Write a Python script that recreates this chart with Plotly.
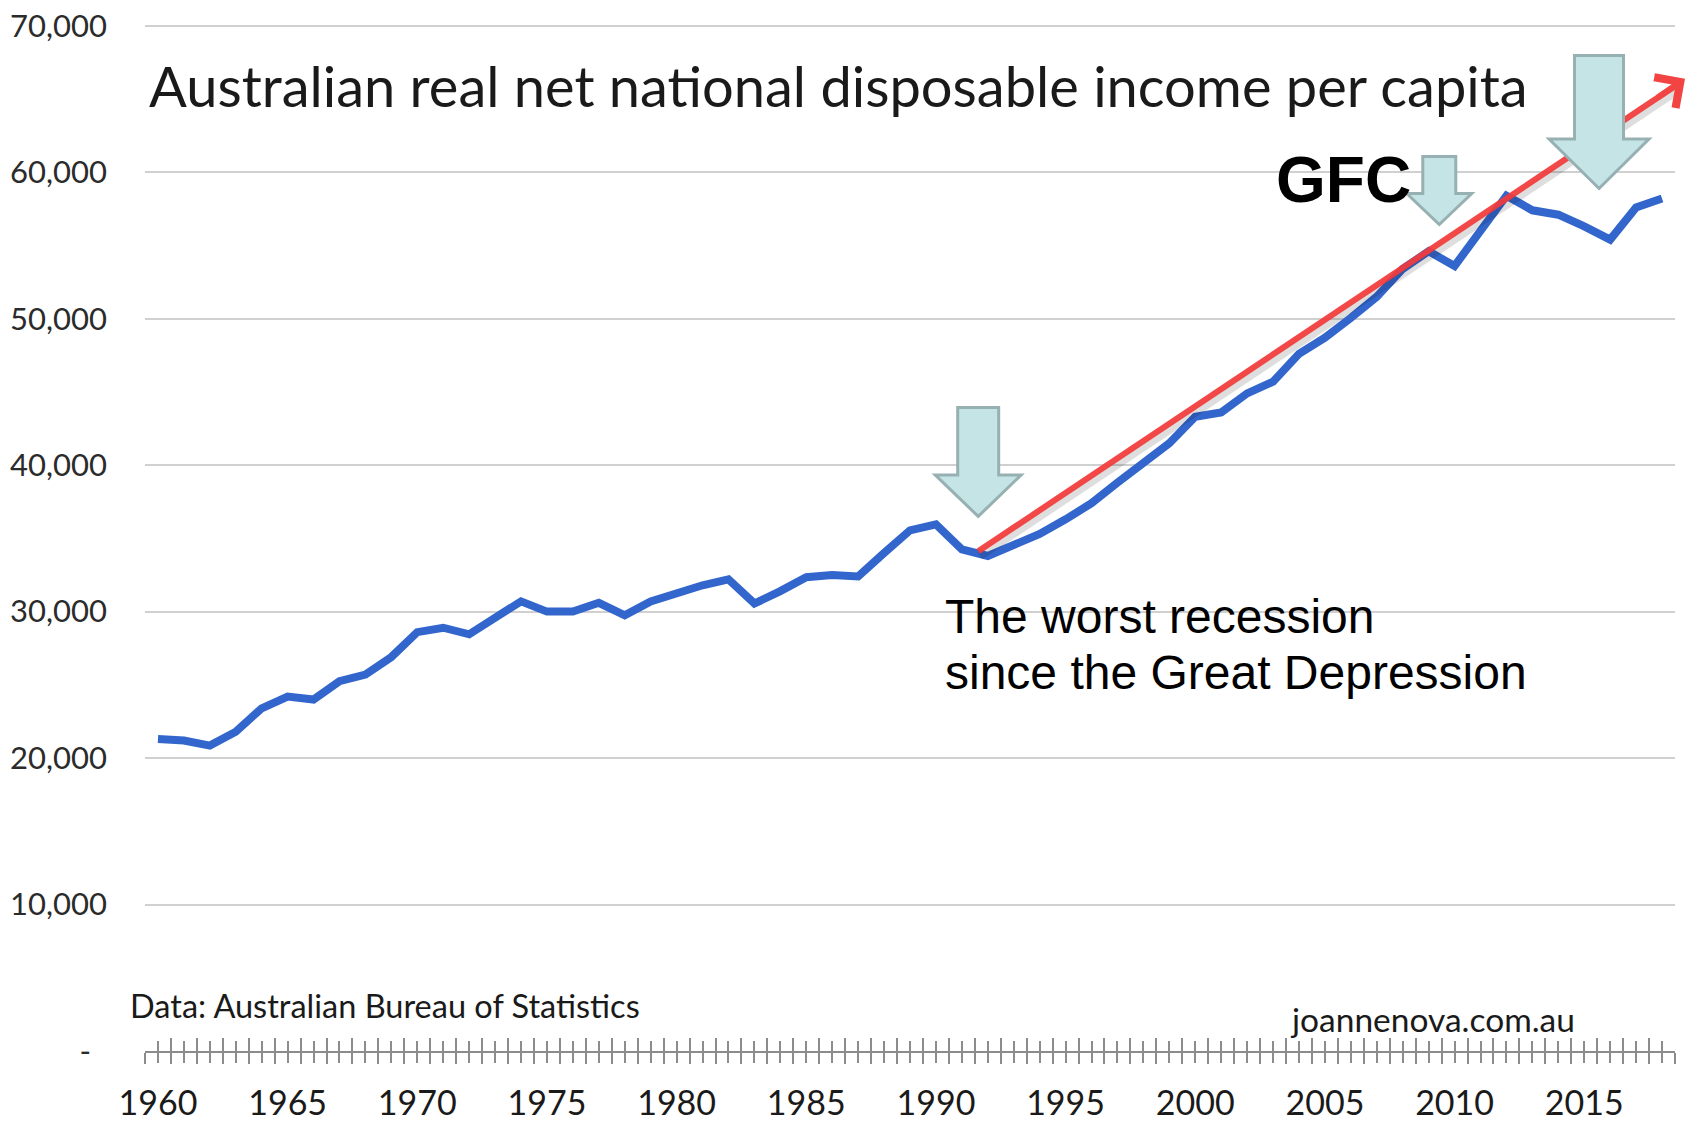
import plotly.graph_objects as go

# ---------------- data ----------------
years = list(range(1960, 2019))
income = [
    21300, 21200, 20850, 21800, 23400, 24200, 24000, 25250, 25700, 26900,
    28600, 28900, 28450, 29550, 30700, 30000, 30000, 30600, 29750, 30700,
    31300, 31800, 32200, 30550, 31400, 32350, 32500, 32400, 34000, 35550,
    35950, 34250, 33800, 34600, 35300, 36300, 37400, 38800, 40200, 41500,
    43300, 43600, 44900, 45700, 47600, 48700, 50050, 51500, 53400, 54600,
    53600, 56000, 58400, 57400, 57100, 56300, 55400, 57600, 58200,
]
label_years = [1960, 1965, 1970, 1975, 1980, 1985, 1990, 1995, 2000, 2005, 2010, 2015]
y_ticks = [0, 10000, 20000, 30000, 40000, 50000, 60000, 70000]
y_labels = ["-  ", "10,000", "20,000", "30,000", "40,000", "50,000", "60,000", "70,000"]

# trend arrow (start and tip) in data units
trend_x = [1991.63, 2018.93]
trend_y = [34120, 66390]

# block-arrow tips (year, value) and their sizes (px: head half-width, shaft half-width, head length, total length)
block_tip_x = [1991.63, 2009.41, 2015.57]
block_tip_y = [36500, 56430, 58890]
block_size = [(43, 20.5, 41.5, 109), (32.5, 16.5, 31, 68), (50, 24.5, 49.4, 133)]

BLUE = "#3366CC"
RED = "rgba(242,58,58,0.93)"
GRID = "#D0D0D0"
AXIS = "#8C8C8C"
CAL = "Lato, 'Open Sans', sans-serif"
ARIAL = "'Liberation Sans', Arial, sans-serif"

X_RANGE = [1959.5, 2018.5]
Y_RANGE = [0, 70120]

W, H = 1686, 1127
ML, MT = 145, 24
PLOT_W, PLOT_H = 1530, 1027
MR = W - ML - PLOT_W
MB = H - MT - PLOT_H


def py(page_y):
    """page pixel y -> paper fraction"""
    return (MT + PLOT_H - page_y) / PLOT_H


def px(page_x):
    return (page_x - ML) / PLOT_W


fig = go.Figure()
fig.add_trace(go.Scatter(x=years, y=income, mode="lines",
                         line=dict(color=BLUE, width=8), hoverinfo="skip",
                         showlegend=False))
# soft shadow under the trend line (offset a few pixels down/right)
sh_dx = 2 / PLOT_W * (X_RANGE[1] - X_RANGE[0])
sh_dy = 5 / PLOT_H * (Y_RANGE[1] - Y_RANGE[0])
fig.add_trace(go.Scatter(x=[v + sh_dx for v in trend_x], y=[v - sh_dy for v in trend_y],
                         mode="lines", line=dict(color="rgba(0,0,0,0.13)", width=8),
                         hoverinfo="skip", showlegend=False))
fig.add_trace(go.Scatter(x=trend_x, y=trend_y, mode="lines",
                         line=dict(color=RED, width=6), hoverinfo="skip",
                         showlegend=False))
# helper trace for overlay axis (ticks crossing the axis line)
fig.add_trace(go.Scatter(x=[years[0]], y=[income[0]], xaxis="x2", mode="markers",
                         marker=dict(opacity=0), hoverinfo="skip", showlegend=False))

ticktext = [str(y) if y in label_years else "" for y in years]

fig.update_layout(
    width=W, height=H,
    margin=dict(l=ML, r=MR, t=MT, b=MB, pad=0, autoexpand=False),
    paper_bgcolor="white", plot_bgcolor="white",
    xaxis=dict(range=X_RANGE, tickmode="array", tickvals=years,
               ticktext=ticktext, ticks="outside", ticklen=10, tickwidth=2,
               tickcolor=AXIS, showline=True, linecolor=AXIS, linewidth=2,
               showgrid=False, zeroline=False, automargin=False,
               tickfont=dict(family=CAL, size=34, color="#1a1a1a"),
               ticklabelstandoff=11,
               minor=dict(tick0=1959.5, dtick=1, ticks="outside", ticklen=11,
                          tickwidth=2, tickcolor=AXIS, showgrid=False)),
    xaxis2=dict(range=X_RANGE, overlaying="x", anchor="y", side="bottom",
                tickmode="array", tickvals=years, showticklabels=False,
                ticks="inside", ticklen=10, tickwidth=2, tickcolor=AXIS,
                showline=False, showgrid=False, zeroline=False, automargin=False,
                minor=dict(tick0=1959.5, dtick=1, ticks="inside", ticklen=13,
                           tickwidth=2, tickcolor=AXIS, showgrid=False)),
    yaxis=dict(range=Y_RANGE, tickmode="array", tickvals=y_ticks,
               ticktext=y_labels, showgrid=True, gridcolor=GRID, gridwidth=2,
               zeroline=False, showline=False, ticks="", automargin=False,
               tickfont=dict(family=CAL, size=31, color="#2b2b2b"),
               ticklabelstandoff=37, ticklabeloverflow="allow"),
)

# red arrow head at the tip of the trend line (tip lies just outside the plot area,
# so it is placed in paper units derived from the data position)
tip_px = (trend_x[1] - X_RANGE[0]) / (X_RANGE[1] - X_RANGE[0])
tip_py = (trend_y[1] - Y_RANGE[0]) / (Y_RANGE[1] - Y_RANGE[0])
fig.add_annotation(x=tip_px, y=tip_py, xref="paper", yref="paper", text="",
                   showarrow=True, arrowhead=4, arrowsize=1.2, arrowwidth=6,
                   arrowcolor="rgb(243,68,68)", ax=-30, ay=20, standoff=0)

# block arrows
for tx, ty, (hw, sw, hl, tl) in zip(block_tip_x, block_tip_y, block_size):
    path = (f"M0,0 L{hw},{hl} L{sw},{hl} L{sw},{tl} L{-sw},{tl} "
            f"L{-sw},{hl} L{-hw},{hl} Z")
    fig.add_shape(type="path", xref="x", yref="y", xsizemode="pixel",
                  ysizemode="pixel", xanchor=tx, yanchor=ty, path=path,
                  fillcolor="#C5E4E6", line=dict(color="#97B0B2", width=3),
                  layer="above")

# texts (positions in page pixels)
fig.add_annotation(text="Australian real net national disposable income per capita",
                   xref="paper", yref="paper", x=px(146.5), y=py(85.5),
                   xanchor="left", yanchor="middle", showarrow=False,
                   font=dict(family=CAL, size=56, color="#1a1a1a"))
fig.add_annotation(text="<b>GFC</b>", xref="paper", yref="paper", x=px(1413), y=py(180),
                   xanchor="right", yanchor="middle", showarrow=False,
                   font=dict(family=ARIAL, size=64, color="black"))
fig.add_annotation(text="The worst recession", xref="paper", yref="paper",
                   x=px(942.5), y=py(616.5), xanchor="left", yanchor="middle",
                   showarrow=False, font=dict(family=ARIAL, size=48, color="black"))
fig.add_annotation(text="since the Great Depression", xref="paper", yref="paper",
                   x=px(942.5), y=py(672), xanchor="left", yanchor="middle",
                   showarrow=False, font=dict(family=ARIAL, size=48, color="black"))
fig.add_annotation(text="Data: Australian Bureau of Statistics", xref="paper", yref="paper",
                   x=px(128), y=py(1005), xanchor="left",
                   yanchor="middle", showarrow=False,
                   font=dict(family=CAL, size=32.5, color="#1a1a1a"))
fig.add_annotation(text="joannenova.com.au", xref="paper", yref="paper",
                   x=px(1287.5), y=py(1019), xanchor="left",
                   yanchor="middle", showarrow=False,
                   font=dict(family=CAL, size=33.5, color="#1a1a1a"))

fig.write_html("out.html", config={"displayModeBar": False},
               post_script="document.body.style.margin='0';"
                           "document.body.style.overflow='hidden';")
